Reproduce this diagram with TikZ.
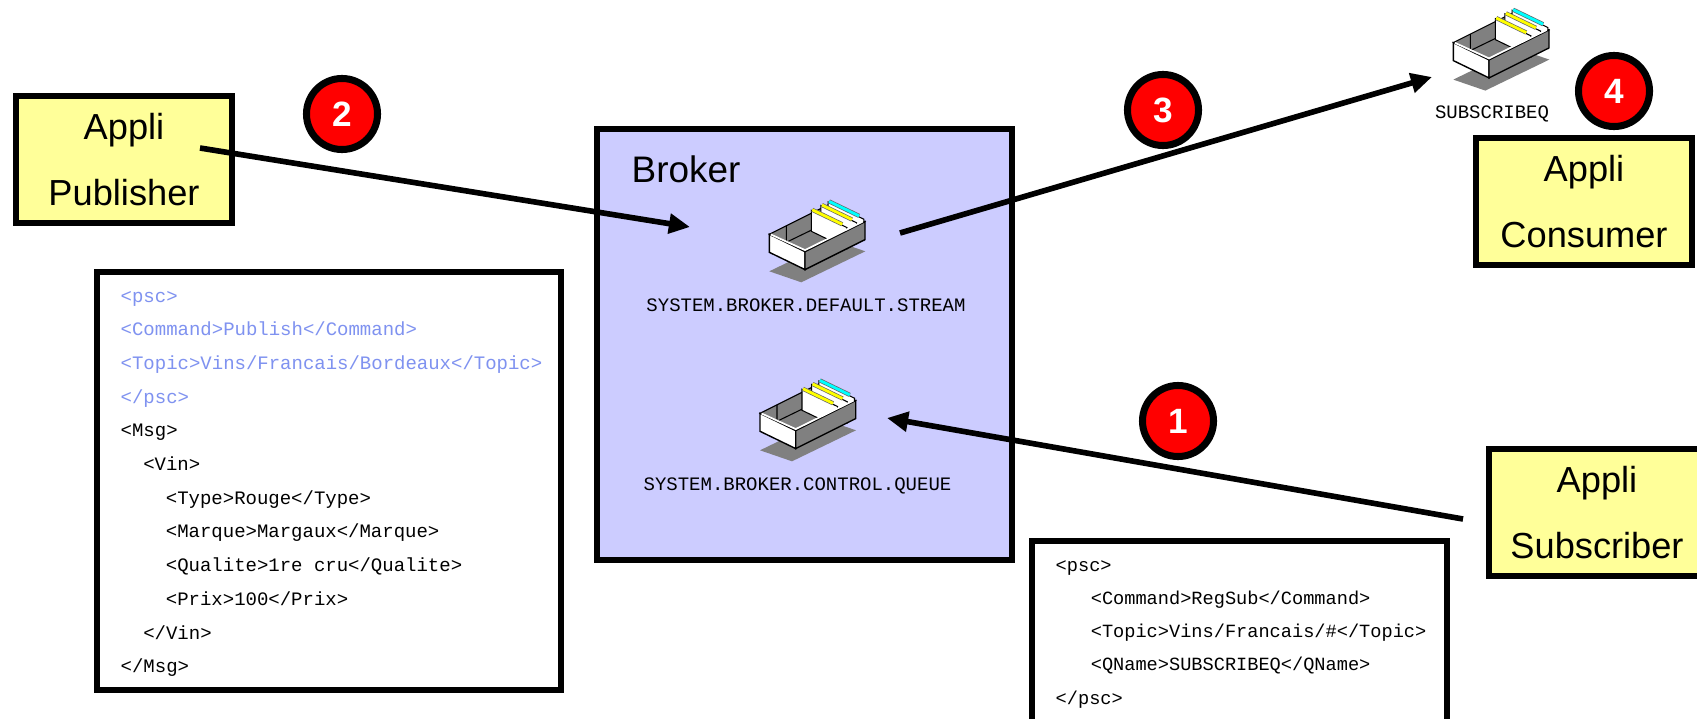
\documentclass[tikz,border=0pt]{standalone}
\usepackage{fontspec}
\setmainfont{Liberation Sans}
\setmonofont{Liberation Mono}
\usepackage{tikz}
\usetikzlibrary{arrows.meta}
\definecolor{APPcolor}{HTML}{FFFF99}
\definecolor{BRKcolor}{HTML}{CCCCFF}
\definecolor{PSCcolor}{HTML}{7F92F0}
\definecolor{TRAYcolor}{HTML}{808080}
\definecolor{TABcolor}{HTML}{FFFF00}
\definecolor{LASTcolor}{HTML}{00FFFF}

\begin{document}
\begin{tikzpicture}[x=0.01cm, y=-0.01cm]
    \tikzset{%
        appli/.style={draw, line width=1.7pt, fill=APPcolor, minimum width=2.16cm, minimum height=1.27cm,
                align=center, font=\fontsize{10.3pt}{19pt}\selectfont},
        codebox/.style={draw, line width=1.7pt},
        codeline/.style={anchor=base west, inner sep=0pt, font=\ttfamily\fontsize{5.4pt}{6pt}\selectfont},
        qlabel/.style={anchor=base, inner sep=0pt, font=\ttfamily\fontsize{5.4pt}{6pt}\selectfont},
        numbered/.style={circle, draw, line width=2pt, fill=red, minimum size=0.71cm, inner sep=0pt,
                text=white, font=\bfseries\fontsize{10pt}{10pt}\selectfont},
        flow/.style={line width=1.6pt, -{Triangle[length=6pt, width=5.5pt]}},
        pics/queue/.style={code={%
                        % shadow
                        \fill [TRAYcolor] (0, 37) -- (32, 48) -- (96, 17) -- (64, 6) -- cycle;
                        % inside
                        \filldraw [fill=TRAYcolor, line width=0.3pt] (0, 0) -- (35.7, 17.3) -- (95.7, -12.7) -- (60, -30) -- cycle;
                        \draw [line width=0.3pt] (17, -8.5) -- (17, 8) -- (50, -8);
                        % cards
                        \foreach \s/\tab in {0.98/LASTcolor, 0.86/TABcolor, 0.70/TABcolor} {%
                                \filldraw [fill=white, line width=0.3pt] ({60*\s}, {-30*\s-3}) -- ++(35.7, 17.3) -- ++(0, 21) -- ++(-35.7, -17.3) -- cycle;
                                \draw [black!60, line width=1.2pt] ({60*\s+1}, {-30*\s-3.5}) -- ++(30, 14.5);
                                \draw [\tab, line width=0.8pt] ({60*\s+1}, {-30*\s-3.5}) -- ++(30, 14.5);
                            };
                        % walls
                        \filldraw [fill=white, line width=0.4pt] (0, 0) -- (35.7, 17.3) -- (35.7, 35.3) -- (0, 18) -- cycle;
                        \filldraw [fill=TRAYcolor, line width=0.4pt] (35.7, 17.3) -- (95.7, -12.7) -- (95.7, 5.3) -- (35.7, 35.3) -- cycle;
                        % rim
                        \draw [white, line width=0.5pt] (1.5, 0.2) -- (35.7, 15.8) -- (93.5, -12.7);
                    }
            }
    }

    \useasboundingbox (0, 0) rectangle (1697, 718);

    % broker
    \filldraw [fill=BRKcolor, line width=1.7pt] (597, 129) rectangle (1012, 560);
    \node [anchor=base west, inner sep=0pt, font=\fontsize{10.5pt}{12pt}\selectfont] (broker) at (631, 182) {Broker};
    \pic (stream) at (769.3, 234.3) {queue};
    \pic (control) at (760, 413.3) {queue};
    \pic (subq) at (1453.3, 42.6) {queue};
    \node [qlabel] (streamlbl) at (806, 311) {SYSTEM.BROKER.DEFAULT.STREAM};
    \node [qlabel] (controllbl) at (797.5, 490) {SYSTEM.BROKER.CONTROL.QUEUE};
    \node [qlabel] (subqlbl) at (1492, 118) {SUBSCRIBEQ};

    % applis
    \node [appli] (publisher) at (124, 159.5) {Appli\\Publisher};
    \node [appli] (consumer) at (1584, 201.5) {Appli\\Consumer};
    \node [appli] (subscriber) at (1597, 512.5) {Appli\\Subscriber};

    % messages
    \draw [codebox, fill=white] (97, 272) rectangle (561, 690);
    \foreach \lvl/\clr/\codetxt [count=\k] in {0/PSCcolor/{<psc>}, 0/PSCcolor/{<Command>Publish</Command>},
            0/PSCcolor/{<Topic>Vins/Francais/Bordeaux</Topic>}, 0/PSCcolor/{</psc>}, 0/black/{<Msg>},
            2/black/{<Vin>}, 4/black/{<Type>Rouge</Type>}, 4/black/{<Marque>Margaux</Marque>},
            4/black/{<Qualite>1re cru</Qualite>}, 4/black/{<Prix>100</Prix>}, 2/black/{</Vin>}, 0/black/{</Msg>}} {%
            \node [codeline, text=\clr] (pub\k) at ({120+\lvl*11.3}, {302+(\k-1)*33.7}) {\codetxt};
        };
    \draw [codebox, fill=white] (1032, 541) rectangle (1447, 740);
    \foreach \lvl/\codetxt [count=\k] in {0/{<psc>}, 3/{<Command>RegSub</Command>},
            3/{<Topic>Vins/Francais/\#</Topic>}, 3/{<QName>SUBSCRIBEQ</QName>}, 0/{</psc>}} {%
            \node [codeline, font=\ttfamily\fontsize{5.3pt}{6pt}\selectfont] (sub\k) at ({1055+\lvl*11.7}, {571+(\k-1)*33.3}) {\codetxt};
        };

    % flows
    \coordinate (pubout) at (200, 148);
    \coordinate (streamin) at (690, 227);
    \coordinate (streamout) at (900, 233);
    \coordinate (subqin) at (1432, 77);
    \coordinate (subout) at (1463, 519);
    \coordinate (controlin) at (887, 418);
    \draw [flow] (pubout) -- (streamin);
    \draw [flow] (streamout) -- (subqin);
    \draw [flow] (subout) -- (controlin);

    \node [numbered] (n1) at (1178, 421) {1};
    \node [numbered] (n2) at (342, 114) {2};
    \node [numbered] (n3) at (1163, 110) {3};
    \node [numbered] (n4) at (1614, 91) {4};
\end{tikzpicture}
\end{document}
